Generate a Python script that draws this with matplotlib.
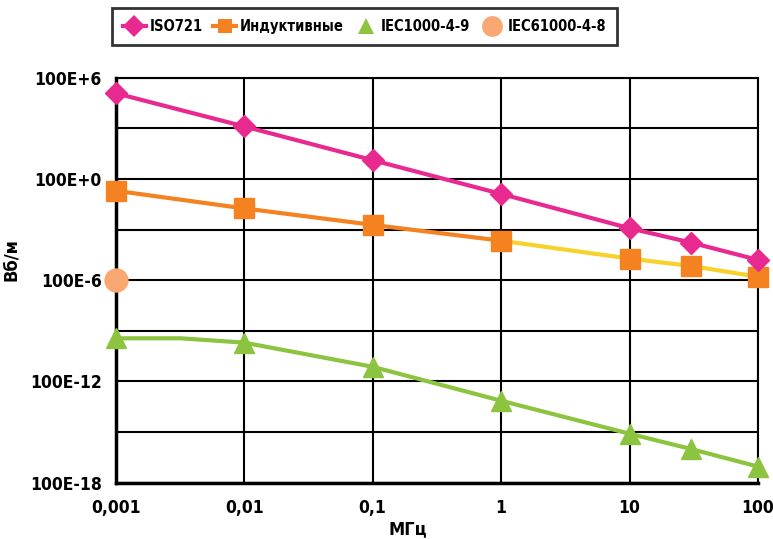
import numpy as np
import matplotlib
matplotlib.use("Agg")
import matplotlib.pyplot as plt
from matplotlib.lines import Line2D

# frequency, MHz
freq = [0.001, 0.01, 0.1, 1, 10, 30, 100]
x_ticks = [0.001, 0.01, 0.1, 1, 10, 100]
x_labels = ["0,001", "0,01", "0,1", "1", "10", "100"]

# flux density, Wb/m
iso721 = [1.2e7, 1.3e5, 1.3e3, 1.3e1, 1.2e-1, 1.7e-2, 1.6e-3]
inductive = [20, 1.8, 0.19, 0.022, 1.9e-3, 7e-4, 1.6e-4]
iec1000 = [3.6e-8, 2.0e-8, 7.4e-10, 7.2e-12, 8.0e-14, 1.0e-14, 9.0e-16]
# knee of the IEC1000-4-9 curve between 0,001 and 0,01
iec1000_knee_x = 0.0032
iec1000_knee_y = 3.6e-8
iec61000 = [1e-4]   # only at 0,001

y_ticks = [1e-16, 1e-13, 1e-10, 1e-7, 1e-4, 1e-1, 1e2, 1e5, 1e8]
y_labels = ["100E-18", "", "100E-12", "", "100E-6", "", "100E+0", "", "100E+6"]

PINK = "#E8298F"
ORANGE = "#F58220"
YELLOW = "#F7D22B"
GREEN = "#8CC43F"
PEACH = "#F9A871"

plt.rcParams["font.family"] = ["DejaVu Sans"]
plt.rcParams["font.stretch"] = "condensed"
plt.rcParams["font.weight"] = "bold"

fig = plt.figure(figsize=(7.73, 5.39), dpi=100)
ax = fig.add_axes([115.7 / 773, 1 - 482.7 / 539, 642.3 / 773, 405 / 539])
ax.set_xscale("log")
ax.set_yscale("log")
ax.set_xlim(0.001, 100)
ax.set_ylim(1e-16, 1e8)

# lines
ax.plot(freq, iso721, color=PINK, lw=3, zorder=3)
ax.plot(freq[:4], inductive[:4], color=ORANGE, lw=3, zorder=3)
ax.plot(freq[3:], inductive[3:], color=YELLOW, lw=3, zorder=3)
gx = [freq[0], iec1000_knee_x] + freq[1:]
gy = [iec1000[0], iec1000_knee_y] + iec1000[1:]
ax.plot(gx, gy, color=GREEN, lw=3, zorder=3)

# markers
ax.plot(freq, iso721, ls="none", marker="D", ms=11.5, color=PINK, zorder=5,
        clip_on=False)
ax.plot(freq, inductive, ls="none", marker="s", ms=14, color=ORANGE, zorder=4,
        clip_on=False)
ax.plot(freq, iec1000, ls="none", marker="^", ms=15, color=GREEN, zorder=4,
        clip_on=False)
ax.plot(freq[:1], iec61000, ls="none", marker="o", ms=16.5, color=PEACH,
        zorder=6, clip_on=False)

ax.set_xticks(x_ticks)
ax.set_xticklabels(x_labels)
ax.set_yticks(y_ticks)
ax.set_yticklabels(y_labels)
ax.minorticks_off()
ax.tick_params(length=0, labelsize=12.5)
ax.tick_params(axis="y", pad=10)
ax.tick_params(axis="x", pad=12)
ax.grid(True, color="black", lw=1.5)
for s in ["top", "right"]:
    ax.spines[s].set_linewidth(1.5)
for s in ["left", "bottom"]:
    ax.spines[s].set_linewidth(2.5)

ax.set_xlabel("МГц", fontsize=13, fontweight="bold")
ax.set_ylabel("Вб/м", fontsize=13, fontweight="bold")
ax.xaxis.set_label_coords(0.455, -0.092)
ax.yaxis.set_label_coords(-0.149, 0.55)

handles = [
    Line2D([], [], color=PINK, lw=3, marker="D", ms=11, markeredgewidth=0),
    Line2D([], [], color=ORANGE, lw=3, marker="s", ms=9.5, markeredgewidth=0),
    Line2D([], [], ls="none", marker="^", ms=12, color=GREEN, markeredgewidth=0),
    Line2D([], [], ls="none", marker="o", ms=15, color=PEACH, markeredgewidth=0),
]
labels = ["ISO721", "Индуктивные", "IEC1000-4-9", "IEC61000-4-8"]
leg = fig.legend(handles, labels, ncol=4, loc="upper left",
                 bbox_to_anchor=(111.7 / 773, 1 - 8.3 / 539),
                 fontsize=10.5, frameon=True, fancybox=False,
                 handlelength=1.6, handletextpad=0.25, columnspacing=0.7,
                 borderaxespad=0, borderpad=0.75)
leg.get_frame().set_edgecolor("black")
leg.get_frame().set_linewidth(2)

fig.savefig("out.png", dpi=100)
